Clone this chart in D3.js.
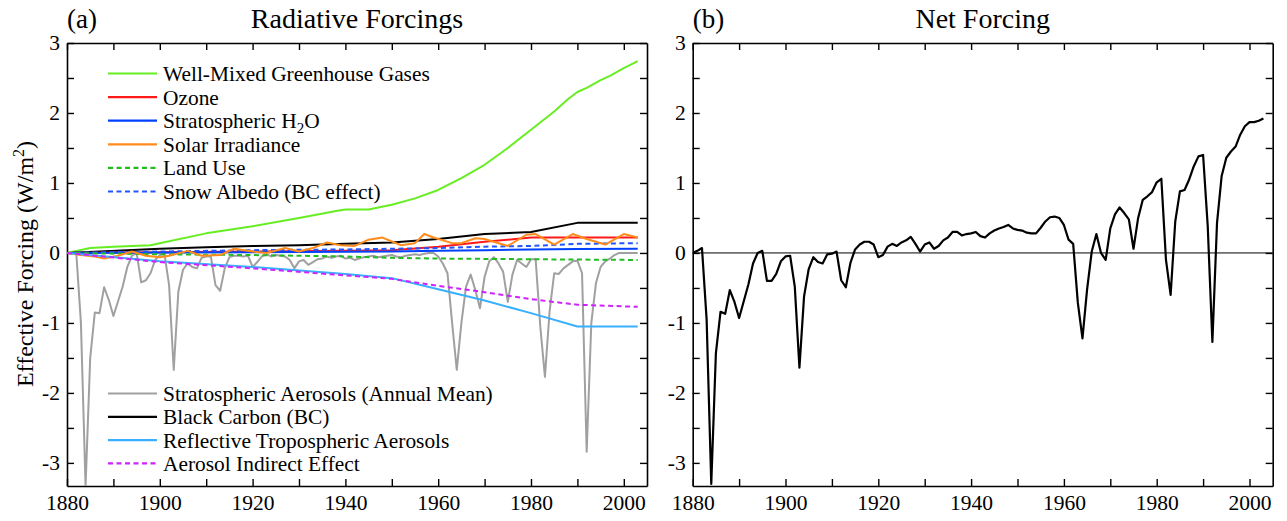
<!DOCTYPE html>
<html><head><meta charset="utf-8">
<script src="https://cdn.jsdelivr.net/npm/d3@7"></script>
<style>
body{margin:0;background:#fff}
svg text{font-family:'Liberation Serif','Times New Roman','Nimbus Roman','DejaVu Serif',serif !important;fill:#000}
</style>
</head><body><svg id="c" width="1287" height="521"></svg>
<script>
// ---------------- DATA ----------------
const yearStart = 1880, yearEnd = 2003;
const xTicks = [1880,1890,1900,1910,1920,1930,1940,1950,1960,1970,1980,1990,2000];
const yTicks = [-3,-2.5,-2,-1.5,-1,-0.5,0,0.5,1,1.5,2,2.5,3];
const yLabels = [-3,-2,-1,0,1,2,3];

// smooth components: [year, W/m2]
const wmghg = [[1880,0],[1885,0.07],[1890,0.09],[1898,0.11],[1900,0.14],[1910,0.28],[1920,0.38],[1930,0.50],[1938,0.60],[1940,0.62],[1945,0.62],[1950,0.69],[1955,0.78],[1960,0.90],[1965,1.07],[1970,1.26],[1975,1.50],[1980,1.76],[1985,2.02],[1988,2.20],[1990,2.30],[1992,2.36],[1995,2.47],[1997,2.53],[2000,2.64],[2003,2.74]];
const ozone = [[1880,0],[1900,0.01],[1920,0.02],[1940,0.03],[1950,0.04],[1960,0.09],[1970,0.16],[1980,0.22],[2003,0.22]];
const stratH2O = [[1880,0],[1920,0.01],[1950,0.02],[1960,0.03],[1970,0.04],[1980,0.05],[1990,0.055],[2003,0.06]];
const solar = [[1880,0],[1883,-0.03],[1886,-0.05],[1888,-0.08],[1891,-0.04],[1894,0.02],[1897,-0.04],[1900,-0.06],[1902,-0.04],[1906,0.03],[1909,-0.04],[1913,-0.03],[1916,0.06],[1920,0.02],[1923,0.0],[1927,0.07],[1930,0.02],[1933,0.07],[1936,0.15],[1939,0.11],[1942,0.10],[1945,0.19],[1948,0.22],[1952,0.11],[1955,0.14],[1957,0.27],[1959,0.22],[1963,0.14],[1965,0.14],[1968,0.21],[1970,0.20],[1975,0.10],[1979,0.26],[1981,0.27],[1985,0.12],[1989,0.27],[1992,0.20],[1996,0.12],[2000,0.27],[2003,0.22]];
const landUse = [[1880,0],[1900,-0.02],[1920,-0.03],[1940,-0.05],[1950,-0.07],[1960,-0.08],[1980,-0.09],[2003,-0.10]];
const snowAlbedo = [[1880,0],[1900,0.02],[1920,0.04],[1940,0.05],[1950,0.06],[1960,0.07],[1970,0.09],[1980,0.10],[1990,0.13],[2003,0.14]];
const blackCarbon = [[1880,0],[1900,0.06],[1910,0.08],[1920,0.10],[1930,0.11],[1940,0.13],[1950,0.15],[1960,0.20],[1970,0.27],[1980,0.30],[1990,0.43],[2003,0.43]];
const reflTrop = [[1880,0],[1900,-0.12],[1920,-0.20],[1940,-0.30],[1950,-0.36],[1960,-0.52],[1970,-0.68],[1980,-0.86],[1990,-1.05],[2003,-1.05]];
const indirect = [[1880,0],[1900,-0.13],[1920,-0.22],[1940,-0.32],[1950,-0.37],[1960,-0.47],[1970,-0.56],[1980,-0.66],[1990,-0.74],[2003,-0.77]];

// annual series 1880..2003
const stratAerosol = [0,0,0,-1.0,-3.33,-1.50,-0.85,-0.86,-0.49,-0.67,
 -0.90,-0.69,-0.48,-0.20,-0.04,0.0,-0.42,-0.39,-0.29,-0.10,
 -0.03,-0.01,-0.46,-1.67,-0.55,-0.24,-0.15,-0.20,-0.22,-0.07,
 -0.05,-0.05,-0.46,-0.54,-0.22,-0.06,-0.04,-0.04,-0.05,-0.04,
 -0.20,-0.13,-0.05,-0.02,-0.05,-0.03,-0.04,-0.05,-0.10,-0.22,
 -0.12,-0.10,-0.17,-0.13,-0.09,-0.08,-0.05,-0.07,-0.05,-0.04,
 -0.08,-0.07,-0.10,-0.08,-0.06,-0.05,-0.04,-0.06,-0.05,-0.04,
 -0.03,-0.05,-0.06,-0.04,-0.03,-0.02,-0.03,-0.01,0,0,
 -0.05,-0.15,-0.29,-1.0,-1.67,-1.0,-0.48,-0.31,-0.53,-0.79,
 -0.34,-0.12,-0.06,-0.15,-0.27,-0.70,-0.31,-0.10,-0.15,-0.20,
 -0.09,-0.09,-1.05,-1.77,-0.84,-0.29,-0.30,-0.22,-0.17,-0.12,
 -0.11,-0.29,-2.84,-1.0,-0.43,-0.20,-0.12,-0.08,-0.03,0,
 0,0,0,0];
const netForcing = [0,0.03,0.07,-0.95,-3.3,-1.43,-0.84,-0.87,-0.53,-0.70,
 -0.93,-0.69,-0.45,-0.15,0.0,0.03,-0.40,-0.40,-0.30,-0.12,
 -0.05,-0.04,-0.48,-1.64,-0.62,-0.23,-0.06,-0.13,-0.15,-0.02,
 -0.01,0.02,-0.39,-0.49,-0.14,0.05,0.12,0.16,0.16,0.12,
 -0.06,-0.03,0.09,0.13,0.10,0.15,0.18,0.23,0.13,0.02,
 0.12,0.15,0.06,0.10,0.18,0.22,0.30,0.30,0.25,0.27,
 0.28,0.30,0.24,0.22,0.28,0.32,0.35,0.37,0.40,0.35,
 0.33,0.32,0.29,0.28,0.28,0.36,0.45,0.51,0.52,0.50,
 0.40,0.19,0.13,-0.71,-1.22,-0.52,0.02,0.27,0.0,-0.10,
 0.35,0.55,0.65,0.57,0.48,0.06,0.50,0.76,0.81,0.87,
 1.01,1.06,-0.10,-0.60,0.45,0.88,0.90,1.05,1.24,1.38,
 1.40,0.38,-1.27,0.43,1.10,1.36,1.45,1.52,1.69,1.81,
 1.87,1.87,1.89,1.92];

const legendTop = [
  {key:"wmghg", label:["Well-Mixed Greenhouse Gases"]},
  {key:"ozone", label:["Ozone"]},
  {key:"stratH2O", label:["Stratospheric H","2","O"]},
  {key:"solar", label:["Solar Irradiance"]},
  {key:"landUse", label:["Land Use"]},
  {key:"snowAlbedo", label:["Snow Albedo (BC effect)"]}
];
const legendBottom = [
  {key:"stratAerosol", label:["Stratospheric Aerosols (Annual Mean)"]},
  {key:"blackCarbon", label:["Black Carbon (BC)"]},
  {key:"reflTrop", label:["Reflective Tropospheric Aerosols"]},
  {key:"indirect", label:["Aerosol Indirect Effect"]}
];

// ---------------- STYLE ----------------
const FONT = "'Liberation Serif','Times New Roman','Nimbus Roman','DejaVu Serif',serif";
const styles = {
  wmghg:{color:"#66ee22", dash:null},
  ozone:{color:"#ff1a1a", dash:null},
  stratH2O:{color:"#0040ff", dash:null},
  solar:{color:"#ff8c1a", dash:null},
  landUse:{color:"#22bb22", dash:"5,3.5"},
  snowAlbedo:{color:"#2255ff", dash:"5,3.5"},
  stratAerosol:{color:"#a0a0a0", dash:null},
  blackCarbon:{color:"#000000", dash:null},
  reflTrop:{color:"#38b0ff", dash:null},
  indirect:{color:"#d022ff", dash:"5,3.5"}
};

const annualYears = d3.range(yearStart, yearEnd+1);
const series = {
  wmghg, ozone, stratH2O, solar, landUse, snowAlbedo, blackCarbon, reflTrop, indirect,
  stratAerosol: annualYears.map((yr,i)=>[yr, stratAerosol[i]])
};
const netSeries = annualYears.map((yr,i)=>[yr, netForcing[i]]);

// ---------------- DRAW ----------------
const svg = d3.select("#c").attr("font-family", FONT);
const plotTop = 43, plotBottom = 486, plotWidth = 580;
const yScale = d3.scaleLinear().domain([-3.33, 3]).range([plotBottom, plotTop]);

function panel(left, letter, title, id) {
  const x = d3.scaleLinear().domain([1880, 2005]).range([left, left + plotWidth]);
  const g = svg.append("g");
  svg.append("clipPath").attr("id","clip"+id).append("rect")
    .attr("x",left).attr("y",plotTop).attr("width",plotWidth).attr("height",plotBottom-plotTop);
  const tickFmtX = d => d % 20 === 0 ? String(d) : "";
  const tickFmtY = d => yLabels.includes(d) ? String(d) : "";
  const ax = (a, tr) => g.append("g").attr("transform", tr).call(a)
    .attr("font-family", FONT)
    .call(s => s.selectAll("path,line").attr("stroke","#000").attr("stroke-width",1.4))
    .call(s => s.selectAll("text").style("font-size","21.5px").style("font-family", FONT));
  ax(d3.axisBottom(x).tickValues(xTicks).tickSizeInner(-7).tickSizeOuter(0).tickPadding(9).tickFormat(tickFmtX), `translate(0,${plotBottom})`);
  ax(d3.axisTop(x).tickValues(xTicks).tickSizeInner(-7).tickSizeOuter(0).tickFormat(""), `translate(0,${plotTop})`);
  ax(d3.axisLeft(yScale).tickValues(yTicks).tickSizeInner(-7).tickSizeOuter(0).tickPadding(7).tickFormat(tickFmtY), `translate(${left},0)`);
  ax(d3.axisRight(yScale).tickValues(yTicks).tickSizeInner(-7).tickSizeOuter(0).tickFormat(""), `translate(${left+plotWidth},0)`);
  g.selectAll(".domain").attr("stroke-width",1.6);
  svg.append("text").attr("x", left).attr("y", 28).style("font-size","27px").style("font-family", FONT).text(letter);
  svg.append("text").attr("x", left + plotWidth/2).attr("y", 28).attr("text-anchor","middle").style("font-size","28px").style("font-family", FONT).text(title);
  const data = svg.append("g").attr("clip-path", `url(#clip${id})`);
  return {x, data};
}

// Panel (a)
const pa = panel(67, "(a)", "Radiative Forcings", "a");
const lineA = d3.line().x(d => pa.x(d[0])).y(d => yScale(d[1]));
const order = ["stratAerosol","wmghg","blackCarbon","ozone","stratH2O","snowAlbedo","landUse","solar","reflTrop","indirect"];
order.forEach(k => {
  pa.data.append("path").datum(series[k]).attr("d", lineA)
    .attr("fill","none").attr("stroke", styles[k].color).attr("stroke-width", 2)
    .attr("stroke-dasharray", styles[k].dash).attr("stroke-linejoin","round");
});

function legend(items, y0, step) {
  items.forEach((it, i) => {
    const yy = y0 + i*step;
    svg.append("line").attr("x1",108).attr("x2",157).attr("y1",yy).attr("y2",yy)
      .attr("stroke", styles[it.key].color).attr("stroke-width",2.2).attr("stroke-dasharray", styles[it.key].dash);
    const t = svg.append("text").attr("x",163).attr("y",yy+7.5).style("font-size","21.4px").style("font-family", FONT);
    if (it.label.length === 1) t.text(it.label[0]);
    else {
      t.append("tspan").text(it.label[0]);
      t.append("tspan").attr("dy",5).style("font-size","15px").text(it.label[1]);
      t.append("tspan").attr("dy",-5).text(it.label[2]);
    }
  });
}
legend(legendTop, 73.5, 23.6);
legend(legendBottom, 393.5, 23.3);

// y label
const yl = svg.append("text").attr("transform","translate(33,264) rotate(-90)")
  .attr("text-anchor","middle").style("font-size","24px").style("font-family", FONT);
yl.append("tspan").text("Effective Forcing (W/m");
yl.append("tspan").attr("dy",-9).style("font-size","16px").text("2");
yl.append("tspan").attr("dy",9).text(")");

// Panel (b)
const pb = panel(692.7, "(b)", "Net Forcing", "b");
svg.append("line").attr("x1",692.7).attr("x2",692.7+plotWidth).attr("y1",yScale(0)).attr("y2",yScale(0))
  .attr("stroke","#000").attr("stroke-width",1);
const lineB = d3.line().x(d => pb.x(d[0])).y(d => yScale(d[1]));
pb.data.append("path").datum(netSeries).attr("d", lineB)
  .attr("fill","none").attr("stroke","#000").attr("stroke-width",2.2).attr("stroke-linejoin","round");
</script></body></html>
